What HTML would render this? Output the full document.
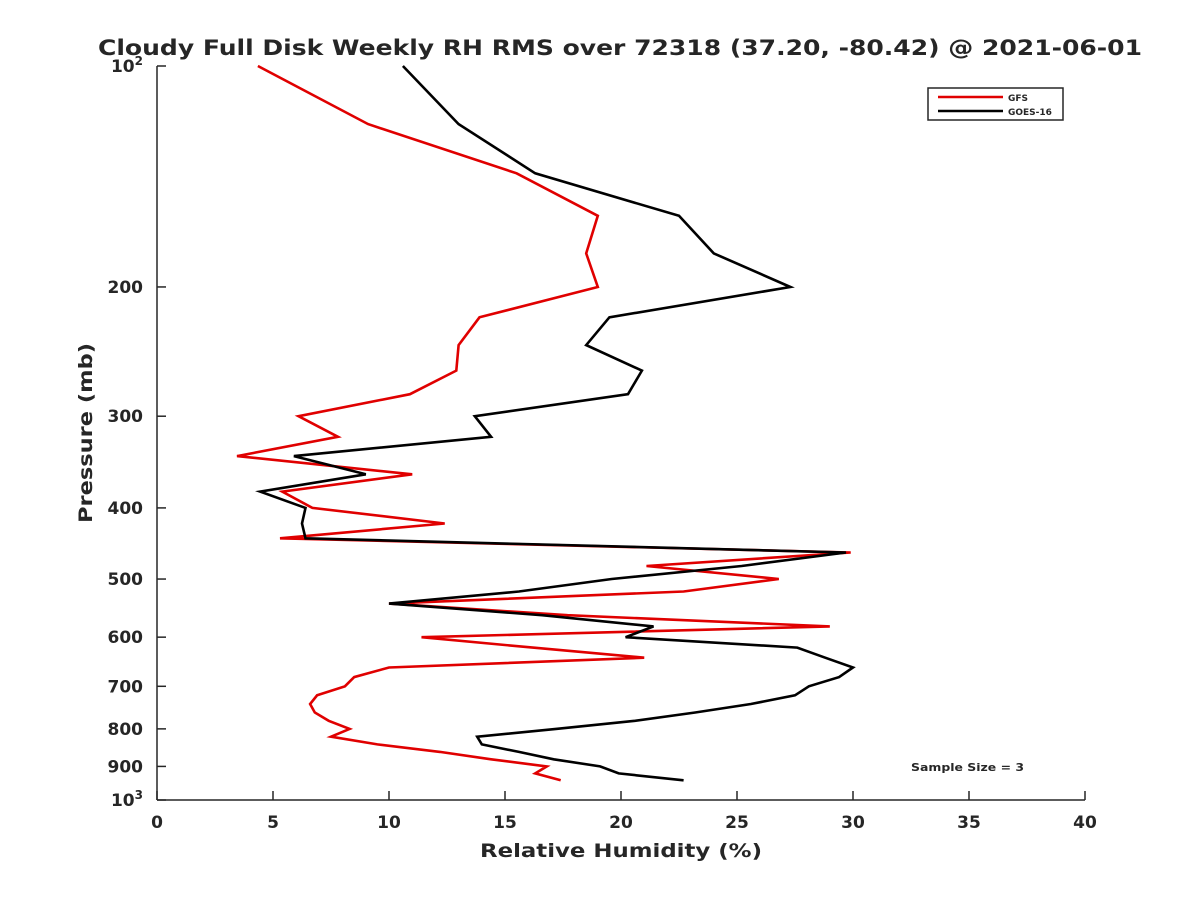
<!DOCTYPE html>
<html><head><meta charset="utf-8"><style>
body{margin:0;background:#fff;}
svg text{font-family:"DejaVu Sans","Liberation Sans",sans-serif;font-weight:bold;fill:#262626;}
</style></head><body>
<svg id="chart" width="1200" height="900" viewBox="0 0 1200 900" xmlns="http://www.w3.org/2000/svg">
<rect width="1200" height="900" fill="#fff"/>
<text x="98" y="55" font-size="21" textLength="1044" lengthAdjust="spacingAndGlyphs" fill="#000">Cloudy Full Disk Weekly RH RMS over 72318 (37.20, -80.42) @ 2021-06-01</text>
<g id="axes"></g>
<g id="series"></g>
<text x="480" y="857" font-size="19" textLength="282" lengthAdjust="spacingAndGlyphs">Relative Humidity (%)</text>
<text transform="translate(92,523) rotate(-90)" font-size="19" textLength="180" lengthAdjust="spacingAndGlyphs">Pressure (mb)</text>
<text x="911" y="771" font-size="11" textLength="113" lengthAdjust="spacingAndGlyphs" fill="#000">Sample Size = 3</text>
<g>
<rect x="928" y="88" width="135" height="32" fill="#fff" stroke="#262626" stroke-width="1.5"/>
<line x1="938" y1="97" x2="1003" y2="97" stroke="#e00000" stroke-width="2.5"/>
<text x="1008" y="101" font-size="9" fill="#000">GFS</text>
<line x1="938" y1="111" x2="1003" y2="111" stroke="#000" stroke-width="2.5"/>
<text x="1008" y="115" font-size="9" fill="#000">GOES-16</text>
</g>
</svg>
<script>
const pressures=[100,120,140,160,180,200,220,240,260,280,300,320,340,360,380,400,420,440,460,480,500,520,540,560,580,600,620,640,660,680,700,720,740,760,780,800,820,840,860,880,900,920,940];
const gfsRH=[4.35,9.1,15.5,19.0,18.5,19.0,13.9,13.0,12.9,10.9,6.1,7.8,3.45,11.0,5.4,6.7,12.4,5.3,29.9,21.1,26.8,22.7,10.0,17.7,29.0,11.4,16.2,21.0,10.0,8.5,8.1,6.9,6.6,6.8,7.4,8.3,7.5,9.5,12.2,14.4,16.8,16.3,17.4];
const goesRH=[10.6,13.0,16.3,22.5,24.0,27.3,19.5,18.5,20.9,20.3,13.7,14.4,5.9,9.0,4.45,6.4,6.25,6.4,29.7,25.2,19.6,15.6,10.0,16.6,21.4,20.2,27.6,28.8,30.0,29.4,28.1,27.5,25.6,23.2,20.6,17.2,13.8,14.0,15.6,17.1,19.1,19.9,22.7];
const xTicks=[0,5,10,15,20,25,30,35,40];
const yTicks=[100,200,300,400,500,600,700,800,900,1000];
const yTickLabels=["10²","200","300","400","500","600","700","800","900","10³"];

const L=157,R=1085,T=66,B=800;
const xs=v=>L+(v-0)/40*(R-L);
const ys=p=>T+Math.log10(p/100)*(B-T);
const NS="http://www.w3.org/2000/svg";
function mk(tag,attrs,parent){const e=document.createElementNS(NS,tag);for(const k in attrs)e.setAttribute(k,attrs[k]);parent.appendChild(e);return e;}
const ax=document.getElementById('axes');
let e=mk('line',{x1:L,y1:T,x2:L,y2:B,stroke:'#262626','stroke-width':1.5},ax);


e=mk('line',{x1:L,y1:B,x2:R,y2:B,stroke:'#262626','stroke-width':1.5},ax);


xTicks.forEach(v=>{
 const x=xs(v);
 let t=mk('line',{x1:x,y1:B,x2:x,y2:B-9,stroke:'#262626','stroke-width':1.5},ax);
 
 
 let l=mk('text',{x:x,y:B+28,'font-size':17,'text-anchor':'middle'},ax);
 l.textContent=String(v);
 
 
});
yTicks.forEach((p,i)=>{
 const y=ys(p);
 let t=mk('line',{x1:L,y1:y,x2:L+9,y2:y,stroke:'#262626','stroke-width':1.5},ax);
 
 
 let l=mk('text',{x:L-14,y:y+6,'font-size':17,'text-anchor':'end'},ax);
 const s=yTickLabels[i];
 if(s.length===3&&(s[2]==='²'||s[2]==='³')){
  l.textContent='10';
  const sp=mk('tspan',{dy:-7,'font-size':12},l);sp.textContent=s[2]==='²'?'2':'3';
 } else l.textContent=s;
 
 
});
const sg=document.getElementById('series');
function line(vals,color,name){
 const pts=vals.map((v,i)=>xs(v).toFixed(1)+','+ys(pressures[i]).toFixed(1)).join(' ');
 const pl=mk('polyline',{points:pts,fill:'none',stroke:color,'stroke-width':2.6,'stroke-linejoin':'miter'},sg);
 
 
}
line(gfsRH,'#e00000','gfs-line');
line(goesRH,'#000000','goes16-line');
</script>
</body></html>
